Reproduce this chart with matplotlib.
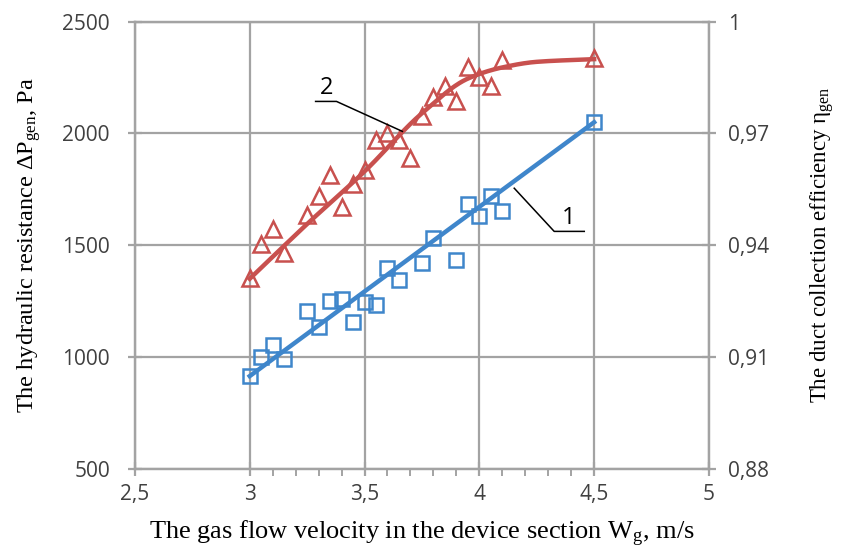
import matplotlib
matplotlib.use("Agg")
import matplotlib.pyplot as plt
import numpy as np

# Gas flow velocity W_g, m/s
x_pts = [3.0, 3.05, 3.1, 3.15, 3.25, 3.3, 3.35, 3.4, 3.45, 3.5, 3.55, 3.6,
         3.65, 3.7, 3.75, 3.8, 3.85, 3.9, 3.95, 4.0, 4.05, 4.1, 4.5]
# curve 2 - hydraulic resistance (triangles)
dp_pts = [1353, 1505, 1571, 1464, 1634, 1719, 1812, 1670, 1772, 1835, 1969, 2000,
          1969, 1888, 2080, 2161, 2214, 2147, 2295, 2250, 2214, 2330, 2339]

# curve 1 - collection efficiency (squares), no point at 3.7 and 3.85
x_sq = [3.0, 3.05, 3.1, 3.15, 3.25, 3.3, 3.35, 3.4, 3.45, 3.5, 3.55, 3.6,
        3.65, 3.75, 3.8, 3.9, 3.95, 4.0, 4.05, 4.1, 4.5]
eta_pts = [915, 1000, 1054, 991, 1205, 1134, 1250, 1259, 1156, 1246, 1232, 1397,
           1344, 1420, 1531, 1433, 1683, 1630, 1719, 1652, 2049]

# trend lines
fit1_x = [3.0, 4.5]
fit1_y = [915, 2050]
fit2_x = [3.0, 3.25, 3.5, 3.75, 3.95, 4.1, 4.25, 4.5]
fit2_y = [1350, 1595, 1830, 2090, 2245, 2295, 2320, 2332]

x_ticks = [2.5, 3, 3.5, 4, 4.5, 5]
x_labels = ["2,5", "3", "3,5", "4", "4,5", "5"]
y_ticks = [500, 1000, 1500, 2000, 2500]
eta_labels = ["0,88", "0,91", "0,94", "0,97", "1"]

RED = "#c8504e"
BLUE = "#3f86cb"
GRID = "#a3a3a3"
TXT = "#404040"


def pchip(x, y, xs):
    # monotone cubic through the read trend points
    x = np.asarray(x, float)
    y = np.asarray(y, float)
    h = np.diff(x)
    d = np.diff(y) / h
    m = np.zeros_like(y)
    m[0], m[-1] = d[0], d[-1]
    for k in range(1, len(x) - 1):
        if d[k - 1] * d[k] > 0:
            w1 = 2 * h[k] + h[k - 1]
            w2 = h[k] + 2 * h[k - 1]
            m[k] = (w1 + w2) / (w1 / d[k - 1] + w2 / d[k])
    i = np.clip(np.searchsorted(x, xs) - 1, 0, len(x) - 2)
    t = (xs - x[i]) / h[i]
    h00 = 2 * t**3 - 3 * t**2 + 1
    h10 = t**3 - 2 * t**2 + t
    h01 = -2 * t**3 + 3 * t**2
    h11 = t**3 - t**2
    return h00 * y[i] + h10 * h[i] * m[i] + h01 * y[i + 1] + h11 * h[i] * m[i + 1]


plt.rcParams["mathtext.fontset"] = "custom"
plt.rcParams["mathtext.rm"] = "Liberation Serif"
plt.rcParams["mathtext.it"] = "Liberation Serif:italic"

fig = plt.figure(figsize=(8.43, 5.53), dpi=100)
ax = fig.add_axes([0.160, 0.152, 0.681, 0.809])

ax.set_xlim(2.5, 5)
ax.set_ylim(500, 2500)
ax.set_xticks(x_ticks)
ax.set_xticklabels(x_labels)
ax.set_yticks(y_ticks)
ax.set_xticks([3.1, 3.2, 3.3, 3.4, 3.6, 3.7, 3.8, 3.9, 4.1, 4.2, 4.3, 4.4], minor=True)
ax.grid(True, which="major", color=GRID, lw=1.6)
ax.set_axisbelow(True)
for s in ax.spines.values():
    s.set_color(GRID)
    s.set_linewidth(1.6)
ax.tick_params(which="major", direction="inout", length=10, width=1.6, color=GRID,
               labelcolor=TXT, labelsize=15)
ax.tick_params(axis="x", which="major", pad=6)
ax.tick_params(axis="y", which="major", pad=13)
ax.tick_params(which="minor", direction="out", length=5, width=1.4, color=GRID)
for lab in ax.get_xticklabels() + ax.get_yticklabels():
    lab.set_family("Open Sans")

# fitted lines
xs = np.linspace(3.0, 4.5, 300)
ax.plot(xs, pchip(fit2_x, fit2_y, xs), color=RED, lw=3.2, zorder=3)
ax.plot(fit1_x, fit1_y, color=BLUE, lw=3.2, zorder=3)

ax.plot(x_pts, dp_pts, ls="none", marker="^", ms=11, mfc="none", mec=RED, mew=1.8, zorder=4)
ax.plot(x_sq, eta_pts, ls="none", marker="s", ms=10, mfc="none", mec=BLUE, mew=1.8, zorder=4)

# curve numbers with leader lines
ax.plot([3.287, 3.378, 3.665], [2143, 2143, 2009], color="black", lw=1.1, zorder=5)
ax.text(3.335, 2150, "2", fontsize=17, family="Open Sans", ha="center", va="bottom")
ax.plot([4.152, 4.326, 4.457], [1755, 1562, 1562], color="black", lw=1.1, zorder=5)
ax.text(4.39, 1570, "1", fontsize=17, family="Open Sans", ha="center", va="bottom")

ax.set_xlabel(r"The gas flow velocity in the device section W$_{\mathrm{g}}$, m/s",
              family="Liberation Serif", fontsize=19, labelpad=10)
ax.set_ylabel(r"The hydraulic resistance $\Delta$P$_{\mathrm{gen}}$, Pa",
              family="Liberation Serif", fontsize=17.5, labelpad=14)

ax2 = ax.twinx()
ax2.set_ylim(500, 2500)
ax2.set_yticks(y_ticks)
ax2.set_yticklabels(eta_labels)
for s in ax2.spines.values():
    s.set_color(GRID)
    s.set_linewidth(1.6)
ax2.tick_params(direction="inout", length=10, width=1.6, color=GRID,
                labelcolor=TXT, labelsize=15, pad=9)
for lab in ax2.get_yticklabels():
    lab.set_family("Open Sans")
ax2.set_ylabel(r"The duct collection efficiency η$_{\mathrm{gen}}$",
               family="Liberation Serif", fontsize=16.5, rotation=90, labelpad=28)

fig.savefig("out.png", dpi=100)
